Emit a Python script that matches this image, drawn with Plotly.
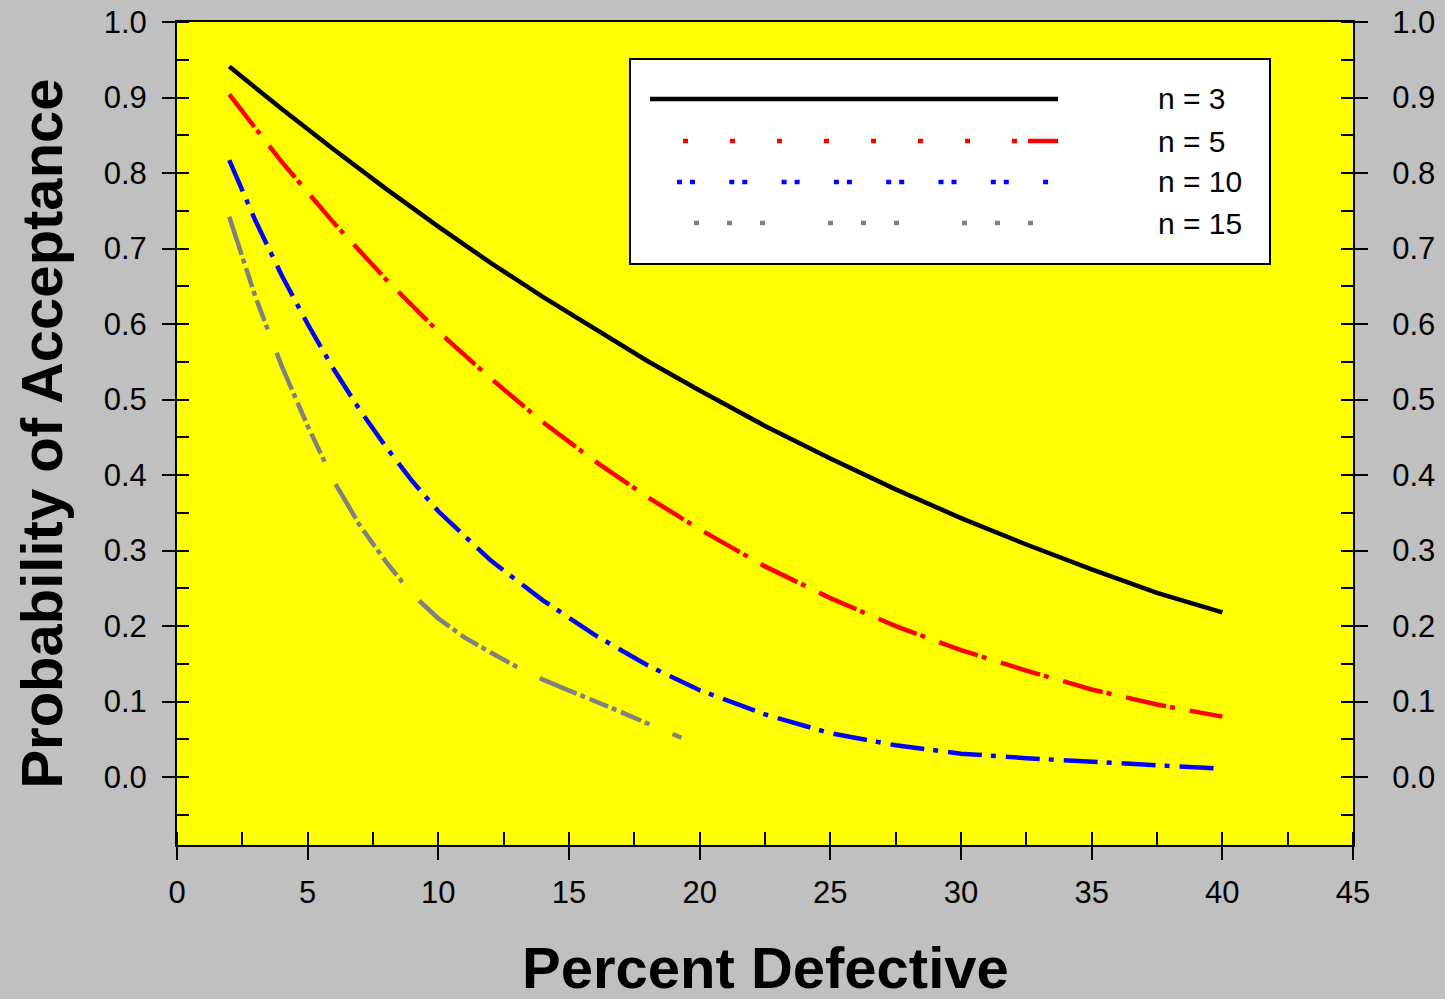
import plotly.graph_objects as go

# ---- data ----
x_n3 = [2, 4, 6, 8, 10, 12, 14, 16, 18, 20, 22.5, 25, 27.5, 30, 32.5, 35, 37.5, 40]
p_n3 = [0.941, 0.885, 0.831, 0.779, 0.729, 0.681, 0.636, 0.593, 0.551, 0.512,
        0.465, 0.422, 0.381, 0.343, 0.308, 0.275, 0.244, 0.218]

x_n5 = [2, 4, 6, 8, 10, 12, 14, 16, 18, 20, 22.5, 25, 27.5, 30, 32.5, 35, 37.5, 40]
p_n5 = [0.904, 0.815, 0.734, 0.659, 0.590, 0.528, 0.470, 0.418, 0.371, 0.328,
        0.279, 0.237, 0.200, 0.168, 0.141, 0.116, 0.096, 0.080]

x_n10 = [2, 3, 4, 5, 6, 7, 8, 9, 10, 12, 14, 16, 18, 20, 22.5, 25, 27.5, 30, 32.5, 35, 37.5, 40]
p_n10 = [0.817, 0.737, 0.665, 0.600, 0.540, 0.486, 0.437, 0.392, 0.352, 0.287, 0.234,
         0.188, 0.148, 0.115, 0.083, 0.058, 0.042, 0.031, 0.025, 0.020, 0.015, 0.011]

x_n15 = [2, 3, 4, 5, 6, 7, 8, 9, 10, 11, 12, 13, 14, 15, 16, 17, 18, 19.3]
p_n15 = [0.742, 0.636, 0.545, 0.465, 0.392, 0.333, 0.285, 0.242, 0.210, 0.185,
         0.165, 0.146, 0.129, 0.115, 0.100, 0.086, 0.071, 0.052]

series_names = ["n = 3", "n = 5", "n = 10", "n = 15"]
x_ticks = [0, 5, 10, 15, 20, 25, 30, 35, 40, 45]
y_ticks = [0.0, 0.1, 0.2, 0.3, 0.4, 0.5, 0.6, 0.7, 0.8, 0.9, 1.0]

# ---- styles ----
FONT = "Arial, 'Liberation Sans', sans-serif"
W, H = 1445, 999
ML, MR, MT, MB = 177, 92, 22, 154
PW, PH = W - ML - MR, H - MT - MB

def px2x(px):
    return (px - ML) / PW

def px2y(py):
    return (H - MB - py) / PH

colors = ["#000000", "#FF0000", "#0000FF", "#808080"]
dashes = ["solid", "41px,4px,5px,15px", "34px,9px,5px,10px",
          "40px,4px,5px,5px,20px,4px,5px,5px,22px,4px,5px,25px"]

fig = go.Figure()
for xs, ys, name, c, d in zip([x_n3, x_n5, x_n10, x_n15], [p_n3, p_n5, p_n10, p_n15],
                              series_names, colors, dashes):
    fig.add_trace(go.Scatter(x=xs, y=ys, mode="lines", name=name,
                             line=dict(color=c, width=4.5, dash=d), showlegend=False))

# dummy trace for the right-hand axis
fig.add_trace(go.Scatter(x=[None], y=[None], yaxis="y2", showlegend=False, hoverinfo="skip"))

# ---- custom legend box ----
shapes = [dict(type="rect", xref="paper", yref="paper",
               x0=px2x(630), x1=px2x(1270), y0=px2y(264), y1=px2y(59),
               fillcolor="white", line=dict(color="black", width=2), layer="above")]
leg_rows = [99, 141, 182, 223]
leg_segments = [
    [(650, 1058, "solid")],
    [(683, 1020, "5px,42px"), (1028, 1058, "solid")],
    [(677, 1049, "5px,8px,5px,34.3px")],
    [(694, 1034, "5px,28px,5px,28px,5px,63px")],
]
for row, segs, c in zip(leg_rows, leg_segments, colors):
    for x0, x1, d in segs:
        shapes.append(dict(type="line", xref="paper", yref="paper",
                           x0=px2x(x0), x1=px2x(x1), y0=px2y(row), y1=px2y(row),
                           line=dict(color=c, width=4.5, dash=d), layer="above"))

annotations = []
for row, name in zip(leg_rows, series_names):
    annotations.append(dict(text=name, xref="paper", yref="paper",
                            x=px2x(1156), y=px2y(row), xanchor="left", yanchor="middle",
                            showarrow=False, font=dict(family=FONT, size=30, color="black")))

# x-axis title as an annotation for exact placement
annotations.append(dict(text="<b>Percent Defective</b>", xref="paper", yref="paper",
                        x=0.5, y=px2y(967), xanchor="center", yanchor="middle",
                        borderpad=0,
                        showarrow=False, font=dict(family=FONT, size=58, color="black")))

axis_common = dict(showline=True, linecolor="black", linewidth=2,
                   ticks="outside", ticklen=13, tickwidth=2, tickcolor="black",
                   showgrid=False, zeroline=False, automargin=False,
                   tickfont=dict(family=FONT, size=31, color="black"))

fig.update_layout(
    width=W, height=H,
    margin=dict(l=ML, r=MR, t=MT, b=MB, pad=0),
    paper_bgcolor="#C0C0C0", plot_bgcolor="#FFFF00",
    font=dict(family=FONT, color="black"),
    showlegend=False,
    shapes=shapes, annotations=annotations,
    xaxis=dict(range=[0, 45], tickvals=x_ticks, ticktext=[str(v) for v in x_ticks],
               mirror=True, ticklabelstandoff=6,
               minor=dict(ticks="inside", ticklen=13, tickwidth=2, tickcolor="black", dtick=2.5, tick0=0),
               **axis_common),
    yaxis=dict(range=[-0.09, 1.0], tickvals=y_ticks, ticktext=[f"{v:.1f}" for v in y_ticks],
               minor=dict(ticks="inside", ticklen=12, tickwidth=2, tickcolor="black", dtick=0.05, tick0=0),
               ticklabelstandoff=9,
               title=dict(text="<b>Probability of Acceptance</b>", standoff=22,
                          font=dict(family=FONT, size=58, color="black")),
               **axis_common),
    yaxis2=dict(range=[-0.09, 1.0], tickvals=y_ticks, ticktext=[f"{v:.1f}" for v in y_ticks],
                overlaying="y", side="right", anchor="x",
                minor=dict(ticks="inside", ticklen=12, tickwidth=2, tickcolor="black", dtick=0.05, tick0=0),
                ticklabelstandoff=18,
                **axis_common),
)

fig.write_html("out.html")
